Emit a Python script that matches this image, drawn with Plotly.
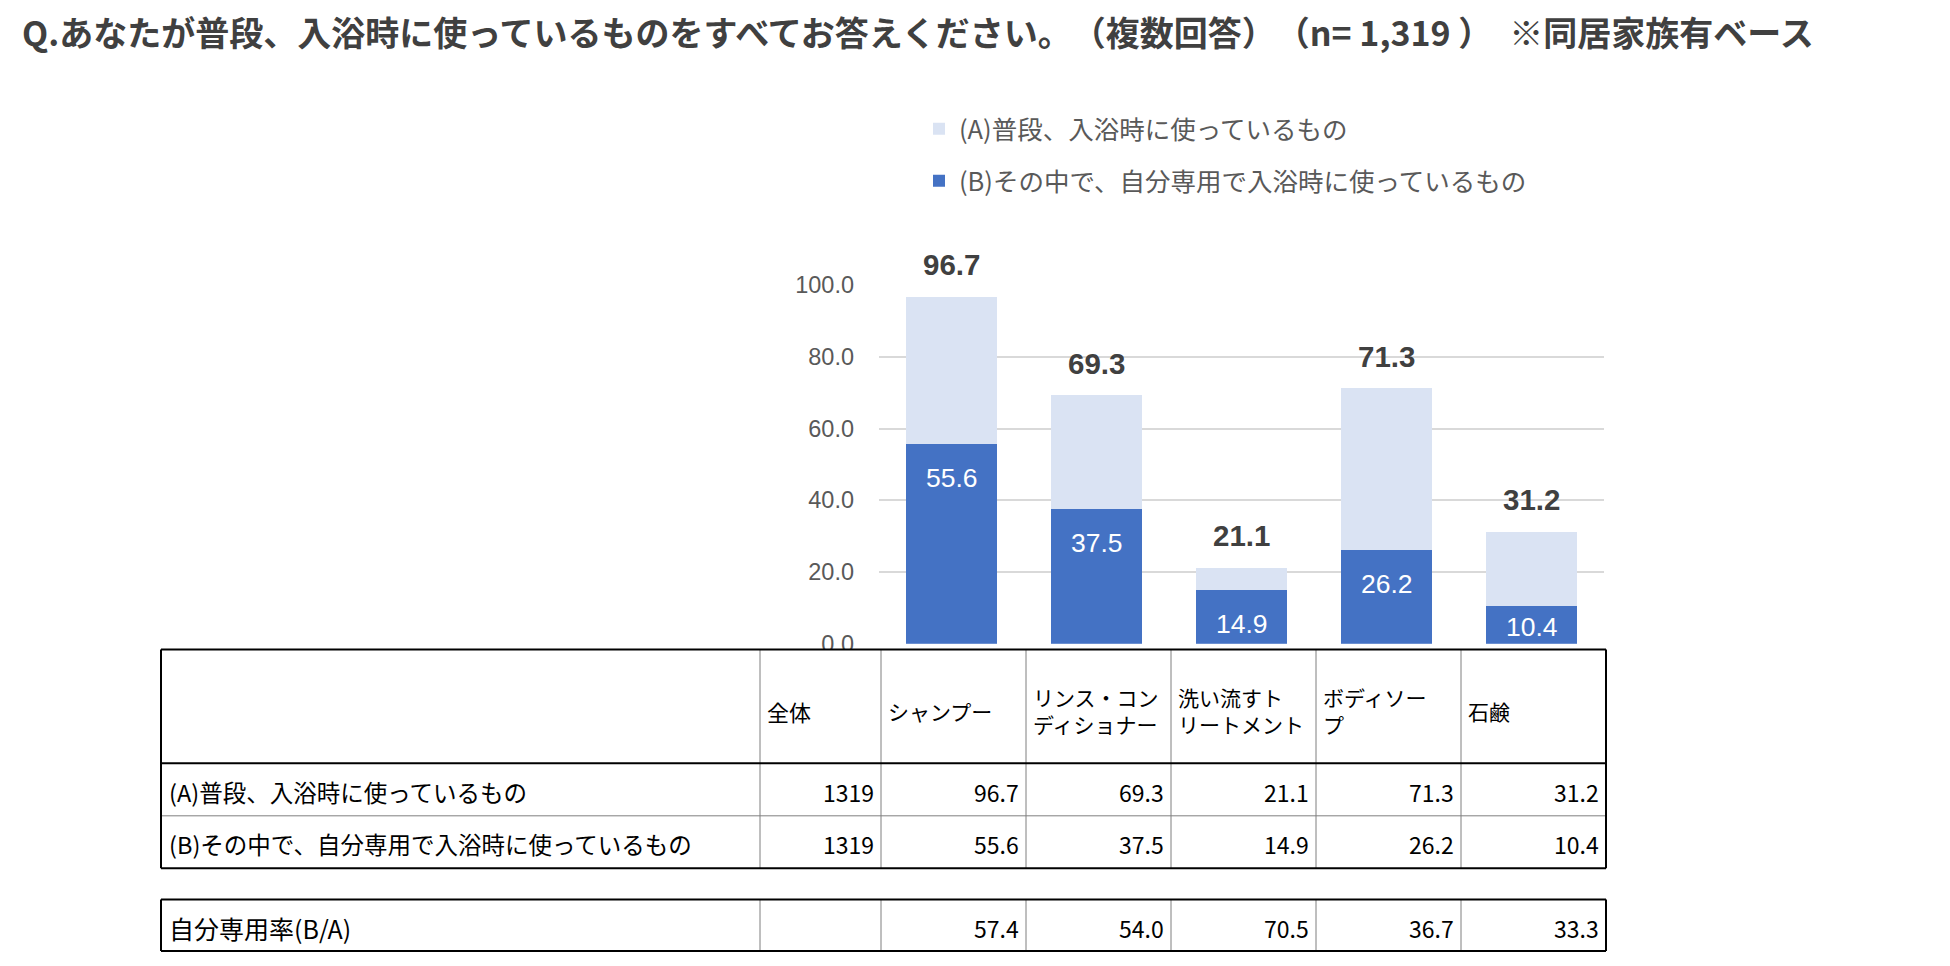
import plotly.graph_objects as go

# data
categories = ["シャンプー", "リンス・コンディショナー", "洗い流すトリートメント", "ボディソープ", "石鹸"]
header_labels = ["シャンプー", "リンス・コン<br>ディショナー", "洗い流すト<br>リートメント", "ボディソー<br>プ", "石鹸"]
used_a = [96.7, 69.3, 21.1, 71.3, 31.2]
own_b = [55.6, 37.5, 14.9, 26.2, 10.4]
own_rate = [57.4, 54.0, 70.5, 36.7, 33.3]
base_n = [1319, 1319]
series_names = ["(A)普段、入浴時に使っているもの", "(B)その中で、自分専用で入浴時に使っているもの"]
rate_label = "自分専用率(B/A)"
total_label = "全体"
y_ticks = [0, 20, 40, 60, 80, 100]
# zero-width spaces keep the browser from squeezing the full-width brackets together
title = "Q.あなたが普段、入浴時に使っているものをすべてお答えください。\u200b（複数回答）\u200b（n= 1,319 ）　※同居家族有ベース"

# page body has an 8px margin, so the figure is a bit smaller than the window
OFF = 8
W, H = 1942, 958
JP = "Noto Sans CJK JP"
NUM = "Liberation Sans"


def fx(p):
    return (p - OFF) / W


def fy(p):
    return 1 - (p - OFF) / H


fig = go.Figure()
fig.add_trace(go.Bar(
    x=categories, y=used_a, name=series_names[0], legendgroup="a",
    marker=dict(color="#DAE3F3", line_width=0), width=0.63,
))
fig.add_trace(go.Bar(
    x=categories, y=own_b, name=series_names[1], legendgroup="b",
    marker=dict(color="#4472C4", line_width=0), width=0.63,
))

# value labels
for c, a in zip(categories, used_a):
    fig.add_annotation(x=c, y=a, text=f"{a:.1f}", showarrow=False, yshift=32,
                       font=dict(family=NUM, size=29.5, color="#404040", weight="bold"))
for c, b in zip(categories, own_b):
    fig.add_annotation(x=c, y=max(b - 9.5, 4.6), text=f"{b:.1f}", showarrow=False,
                       font=dict(family=NUM, size=26.5, color="white"))

# title
fig.add_annotation(xref="paper", yref="paper", x=fx(20), y=fy(19), xanchor="left", yanchor="middle",
                   text=title, showarrow=False,
                   font=dict(family=JP, size=34, color="#404040", weight="bold"))

# table under the chart
cols = [161, 760, 881, 1026, 1171, 1316, 1461, 1606]
rows = [654, 771, 825, 879]
rate_rows = [911, 964]
shapes = []


def rect(x0, y0, x1, y1):
    shapes.append(dict(type="rect", xref="paper", yref="paper", layer="above",
                       x0=fx(x0), x1=fx(x1), y0=fy(y0), y1=fy(y1),
                       fillcolor="white", line_width=0))


def line(x0, y0, x1, y1, color="black", w=2):
    shapes.append(dict(type="line", xref="paper", yref="paper", layer="above",
                       x0=fx(x0), x1=fx(x1), y0=fy(y0), y1=fy(y1),
                       line=dict(color=color, width=w)))


rect(cols[0], rows[0], cols[-1], rows[-1])
rect(cols[0], rate_rows[0], cols[-1], rate_rows[1])
for cx in cols[1:-1]:
    line(cx, rows[0], cx, rows[-1], "#7F7F7F", 1)
    line(cx, rate_rows[0], cx, rate_rows[1], "#7F7F7F", 1)
line(cols[0], rows[2], cols[-1], rows[2], "#7F7F7F", 1)
for ry in (rows[0], rows[1], rows[3], rate_rows[0], rate_rows[1]):
    line(cols[0], ry, cols[-1], ry)
for cx in (cols[0], cols[-1]):
    line(cx, rows[0], cx, rows[-1])
    line(cx, rate_rows[0], cx, rate_rows[1])


def cell(text, x, y, anchor="left", size=23):
    fig.add_annotation(xref="paper", yref="paper", x=fx(x), y=fy(y), xanchor=anchor, yanchor="middle",
                       text=text, showarrow=False, align="left",
                       font=dict(family=JP, size=size, color="black"))


head_y = 717
row_y = [800, 854]
rate_y = 940
cell(total_label, cols[1] + 5, head_y, size=22)
for k, h in enumerate(header_labels):
    cell(h, cols[k + 2] + 5, head_y, size=21)
for r, (name, n, vals) in enumerate(zip(series_names, base_n, (used_a, own_b))):
    cell(name, cols[0] + 6, row_y[r], size=23.5)
    cell(str(n), cols[2] - 5, row_y[r], "right")
    for k, v in enumerate(vals):
        cell(f"{v:.1f}", cols[k + 3] - 5, row_y[r], "right")
cell(rate_label, cols[0] + 6, rate_y, size=25)
for k, v in enumerate(own_rate):
    cell(f"{v:.1f}", cols[k + 3] - 5, rate_y, "right")

fig.update_layout(
    width=W, height=H, autosize=False,
    margin=dict(l=0, r=0, t=0, b=0),
    paper_bgcolor="white", plot_bgcolor="white",
    barmode="overlay", bargap=0,
    shapes=shapes,
    showlegend=True,
    legend=dict(x=fx(919), y=fy(95), xanchor="left", yanchor="top",
                font=dict(family=JP, size=25.5, color="#595959"),
                tracegroupgap=16, bgcolor="rgba(0,0,0,0)"),
    xaxis=dict(domain=[fx(879), fx(1604)], range=[-0.5, 4.5], showticklabels=False,
               showgrid=False, zeroline=False, fixedrange=True),
    yaxis=dict(domain=[fy(648), fy(279.5)], range=[0, 100], tickvals=y_ticks,
               tickformat=".1f", showgrid=True, gridcolor="#D9D9D9", gridwidth=2,
               zeroline=False, ticklabelstandoff=24,
               tickfont=dict(family=NUM, size=23.5, color="#595959"), fixedrange=True),
)

fig.write_html("out.html")
